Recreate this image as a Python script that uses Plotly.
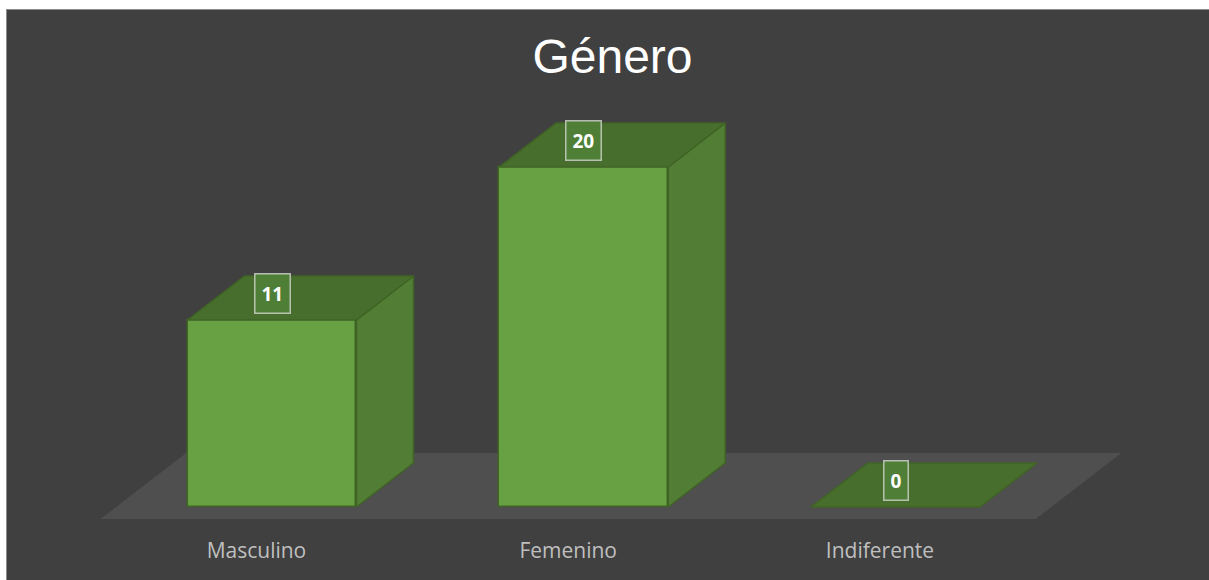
import plotly.graph_objects as go

# ---- data ----
categories = ["Masculino", "Femenino", "Indiferente"]
values = [11, 20, 0]
title_text = "Género"

# ---- styling / geometry constants ----
W, H = 1209, 580
B = 55                      # bottom margin (px)
PX_PER_CAT = 311.75         # px per category unit
PX_PER_VAL = 17.0           # px per value unit
ZERO_PX = 507               # pixel row of value 0
BAR_W = 0.542               # bar width in category units
DEPTH_DX = 57 / PX_PER_CAT  # depth vector (category units)
DEPTH_DY = 44 / PX_PER_VAL  # depth vector (value units)
FLOOR_T0, FLOOR_T1 = -0.273, 1.227

FRONT = "#68A044"
TOP = "#486E2E"
SIDE = "#527D34"
EDGE = "#3F6424"
FLOOR = "#504F50"
BG = "#404040"

Hp = H - B
x0 = -272 / PX_PER_CAT
x1 = x0 + W / PX_PER_CAT
y1 = ZERO_PX / PX_PER_VAL
y0 = y1 - Hp / PX_PER_VAL

n = len(categories)
xs = list(range(n))

fig = go.Figure()

# top and side faces of each box (computed from the values)
for i, v in zip(xs, values):
    l, r = i - BAR_W / 2, i + BAR_W / 2
    if v > 0:
        fig.add_trace(go.Scatter(
            x=[r, r + DEPTH_DX, r + DEPTH_DX, r, r],
            y=[0, DEPTH_DY, v + DEPTH_DY, v, 0],
            fill="toself", fillcolor=SIDE, mode="lines",
            line=dict(color=EDGE, width=1.5), hoverinfo="skip", showlegend=False))
    fig.add_trace(go.Scatter(
        x=[l, r, r + DEPTH_DX, l + DEPTH_DX, l],
        y=[v, v, v + DEPTH_DY, v + DEPTH_DY, v],
        fill="toself", fillcolor=TOP, mode="lines",
        line=dict(color=EDGE, width=1.5), hoverinfo="skip", showlegend=False))

# front faces
fig.add_trace(go.Bar(
    x=xs, y=values, width=BAR_W, base=0,
    marker=dict(color=FRONT, line=dict(color=EDGE, width=1.5)),
    hoverinfo="skip", showlegend=False))

# floor (below everything)
fl, fr = -0.5, n - 0.5
pts = [
    (fl + FLOOR_T0 * DEPTH_DX, FLOOR_T0 * DEPTH_DY),
    (fr + FLOOR_T0 * DEPTH_DX, FLOOR_T0 * DEPTH_DY),
    (fr + FLOOR_T1 * DEPTH_DX, FLOOR_T1 * DEPTH_DY),
    (fl + FLOOR_T1 * DEPTH_DX, FLOOR_T1 * DEPTH_DY),
]
path = "M " + " L ".join(f"{px},{py}" for px, py in pts) + " Z"
shapes = [dict(type="path", path=path, xref="x", yref="y", fillcolor=FLOOR,
               line=dict(width=0), layer="below")]

# white outer strips and thin grey border (top-left of the chart area)
ybot = -B / Hp
shapes += [
    dict(type="rect", xref="paper", yref="paper", x0=0, x1=6 / W, y0=ybot, y1=1,
         fillcolor="white", line=dict(width=0), layer="above"),
    dict(type="rect", xref="paper", yref="paper", x0=0, x1=1, y0=1 - 9 / Hp, y1=1,
         fillcolor="white", line=dict(width=0), layer="above"),
    dict(type="line", xref="paper", yref="paper", x0=6.5 / W, x1=6.5 / W, y0=ybot, y1=1 - 9 / Hp,
         line=dict(color="#8C8C8C", width=1), layer="above"),
    dict(type="line", xref="paper", yref="paper", x0=6 / W, x1=1, y0=1 - 9.5 / Hp, y1=1 - 9.5 / Hp,
         line=dict(color="#8C8C8C", width=1), layer="above"),
]

# data labels
annotations = []
for i, v in zip(xs, values):
    annotations.append(dict(
        x=i, y=v, xref="x", yref="y", text=f"<b>{v}</b>", showarrow=False,
        yshift=27, xanchor="center", yanchor="middle",
        font=dict(family="Open Sans", size=19, color="white"),
        bgcolor="#4F7F36", bordercolor="rgba(220,220,220,0.75)", borderwidth=1.5, borderpad=6))

tick_pos = [i + FLOOR_T0 * DEPTH_DX for i in xs]

fig.update_layout(
    width=W, height=H,
    margin=dict(l=0, r=0, t=0, b=B, pad=0),
    paper_bgcolor=BG, plot_bgcolor=BG,
    title=dict(text=title_text, x=612.5 / W, xanchor="center", y=1 - 56 / H, yanchor="middle",
               xref="paper", yref="container",
               font=dict(family="Liberation Sans", size=48, color="white")),
    xaxis=dict(range=[x0, x1], tickvals=tick_pos, ticktext=categories, showgrid=False,
               zeroline=False, showline=False, ticks="", ticklabelstandoff=11,
               tickfont=dict(family="Open Sans", size=21, color="#BFBFBF"), fixedrange=True),
    yaxis=dict(range=[y0, y1], visible=False, showgrid=False, zeroline=False, fixedrange=True),
    shapes=shapes, annotations=annotations, bargap=0,
)

fig.write_html("out.html", config={"displayModeBar": False},
               post_script="document.body.style.margin='0';document.body.style.overflow='hidden';")
